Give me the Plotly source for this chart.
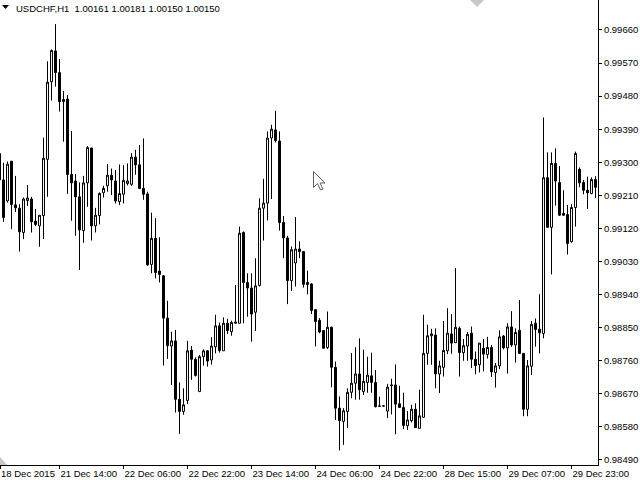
import plotly.graph_objects as go

symbol_text = "USDCHF,H1&nbsp; 1.00161 1.00181 1.00150 1.00150"

open_ = [0.99324,0.99252,0.99195,0.99303,0.99184,0.99175,0.99109,0.99196,0.99200,0.99140,
0.99127,0.99155,0.99308,0.99519,0.99603,0.99544,0.99465,0.99472,0.99267,0.99249,
0.99206,0.99114,0.99244,0.99339,0.99127,0.99155,0.99217,0.99236,0.99265,0.99249,
0.99193,0.99213,0.99242,0.99240,0.99314,0.99293,0.99229,0.99214,0.99022,0.99093,
0.99004,0.98991,0.98876,0.98800,0.98814,0.98655,0.98622,0.98652,0.98789,0.98764,
0.98676,0.98771,0.98787,0.98762,0.98798,0.98855,0.98787,0.98862,0.98839,0.98862,
0.98862,0.99109,0.98973,0.98958,0.98892,0.98965,0.99175,0.99189,0.99366,0.99388,
0.99358,0.99136,0.99094,0.98978,0.99026,0.99064,0.99057,0.98967,0.98969,0.98899,
0.98870,0.98842,0.98796,0.98851,0.98742,0.98631,0.98595,0.98622,0.98674,0.98699,
0.98724,0.98676,0.98701,0.98719,0.98701,0.98637,0.98637,0.98623,0.98692,0.98694,
0.98643,0.98633,0.98583,0.98597,0.98628,0.98576,0.98606,0.98780,0.98828,0.98830,
0.98724,0.98742,0.98787,0.98833,0.98809,0.98848,0.98782,0.98800,0.98835,0.98764,
0.98749,0.98794,0.98777,0.98796,0.98728,0.98746,0.98827,0.98795,0.98852,0.98803,
0.98843,0.98780,0.98628,0.98745,0.98862,0.98846,0.98834,0.99258,0.99123,0.99297,
0.99245,0.99161,0.99158,0.99084,0.99177,0.99281,0.99245,0.99224,0.99215,0.99253]

high = [0.99440,0.99299,0.99302,0.99303,0.99263,0.99186,0.99204,0.99238,0.99206,0.99173,
0.99156,0.99367,0.99575,0.99607,0.99676,0.99581,0.99494,0.99483,0.99385,0.99268,
0.99245,0.99263,0.99344,0.99339,0.99176,0.99218,0.99236,0.99295,0.99283,0.99279,
0.99294,0.99292,0.99297,0.99325,0.99334,0.99347,0.99365,0.99220,0.99163,0.99148,
0.99096,0.98993,0.98923,0.98839,0.98844,0.98701,0.98685,0.98814,0.98800,0.98769,
0.98776,0.98791,0.98789,0.98824,0.98885,0.98864,0.98878,0.98874,0.98869,0.98966,
0.99125,0.99112,0.98998,0.98998,0.99039,0.99202,0.99255,0.99384,0.99402,0.99440,
0.99384,0.99154,0.99100,0.99071,0.99151,0.99085,0.99057,0.99005,0.98971,0.98899,
0.98876,0.98842,0.98894,0.98853,0.98758,0.98663,0.98631,0.98685,0.98781,0.98797,
0.98821,0.98790,0.98771,0.98782,0.98735,0.98662,0.98638,0.98697,0.98711,0.98750,
0.98692,0.98673,0.98623,0.98640,0.98644,0.98681,0.98885,0.98858,0.98847,0.98848,
0.98760,0.98868,0.98903,0.98887,0.99012,0.98853,0.98819,0.98838,0.98853,0.98785,
0.98808,0.98819,0.98825,0.98803,0.98754,0.98843,0.98830,0.98862,0.98895,0.98848,
0.98925,0.98780,0.98762,0.98868,0.98875,0.98941,0.99422,0.99327,0.99327,0.99338,
0.99290,0.99224,0.99184,0.99186,0.99329,0.99286,0.99252,0.99261,0.99259,0.99262]

low = [0.99147,0.99138,0.99190,0.99118,0.99165,0.99057,0.99091,0.99181,0.99109,0.99126,
0.99070,0.99091,0.99206,0.99468,0.99506,0.99438,0.99356,0.99214,0.99141,0.99100,
0.99007,0.99081,0.99179,0.99087,0.99109,0.99131,0.99204,0.99220,0.99211,0.99188,
0.99184,0.99188,0.99237,0.99236,0.99266,0.99227,0.99198,0.99018,0.98998,0.98984,
0.98973,0.98747,0.98765,0.98694,0.98619,0.98561,0.98613,0.98642,0.98708,0.98717,
0.98676,0.98747,0.98744,0.98749,0.98780,0.98782,0.98787,0.98833,0.98828,0.98862,
0.98862,0.98862,0.98880,0.98812,0.98841,0.98962,0.99087,0.99142,0.99200,0.99354,
0.99114,0.99039,0.98914,0.98950,0.98962,0.99039,0.98959,0.98941,0.98887,0.98799,
0.98835,0.98794,0.98792,0.98688,0.98599,0.98516,0.98531,0.98577,0.98658,0.98654,
0.98654,0.98667,0.98673,0.98673,0.98633,0.98635,0.98636,0.98604,0.98614,0.98560,
0.98633,0.98574,0.98572,0.98592,0.98578,0.98576,0.98606,0.98749,0.98749,0.98685,
0.98672,0.98717,0.98778,0.98779,0.98809,0.98717,0.98760,0.98760,0.98740,0.98723,
0.98728,0.98731,0.98766,0.98716,0.98687,0.98737,0.98791,0.98725,0.98798,0.98755,
0.98780,0.98609,0.98609,0.98721,0.98798,0.98780,0.98821,0.99123,0.98995,0.99182,
0.99154,0.99154,0.99049,0.99081,0.99125,0.99232,0.99213,0.99173,0.99213,0.99203]

close = [0.99252,0.99150,0.99295,0.99185,0.99176,0.99111,0.99200,0.99203,0.99138,0.99131,
0.99156,0.99311,0.99518,0.99604,0.99544,0.99465,0.99471,0.99267,0.99244,0.99206,
0.99116,0.99244,0.99340,0.99127,0.99156,0.99215,0.99229,0.99265,0.99252,0.99195,
0.99215,0.99251,0.99249,0.99314,0.99293,0.99229,0.99213,0.99021,0.99093,0.99000,
0.98995,0.98876,0.98801,0.98814,0.98655,0.98622,0.98640,0.98787,0.98764,0.98720,
0.98771,0.98787,0.98759,0.98800,0.98855,0.98788,0.98862,0.98842,0.98864,0.98865,
0.99107,0.98973,0.98958,0.98887,0.98964,0.99175,0.99189,0.99366,0.99390,0.99359,
0.99136,0.99094,0.98978,0.99062,0.99064,0.99057,0.98968,0.98973,0.98897,0.98867,
0.98838,0.98794,0.98851,0.98742,0.98631,0.98597,0.98624,0.98674,0.98699,0.98724,
0.98681,0.98704,0.98721,0.98701,0.98635,0.98636,0.98637,0.98688,0.98694,0.98642,
0.98633,0.98584,0.98599,0.98628,0.98578,0.98610,0.98780,0.98828,0.98833,0.98724,
0.98746,0.98788,0.98835,0.98808,0.98851,0.98782,0.98801,0.98832,0.98764,0.98747,
0.98808,0.98778,0.98796,0.98730,0.98746,0.98825,0.98795,0.98852,0.98803,0.98837,
0.98780,0.98628,0.98746,0.98859,0.98845,0.98836,0.99258,0.99123,0.99297,0.99249,
0.99156,0.99156,0.99079,0.99177,0.99324,0.99244,0.99224,0.99217,0.99253,0.99232]

time_label_idx = [0, 15, 31, 47, 63, 79, 95, 111, 127, 143]
time_labels = ["18 Dec 2015", "21 Dec 14:00", "22 Dec 06:00", "22 Dec 22:00", "23 Dec 14:00",
               "24 Dec 06:00", "24 Dec 22:00", "28 Dec 15:00", "29 Dec 07:00", "29 Dec 23:00"]
price_ticks = [0.98490, 0.98580, 0.98670, 0.98760, 0.98850, 0.98940, 0.99030,
               0.99120, 0.99210, 0.99300, 0.99390, 0.99480, 0.99570, 0.99660]

W, H = 640, 480
PL, PR, PT, PB = 0, 598, 0, 465
X0 = 0.125
X1 = X0 + (PR - PL) / 4.0
Y_TOP = 0.997416
Y_BOT = 0.984763

FONT = "Liberation Sans"

def pp(x, y):
    return (x - PL) / (PR - PL), 1 - (y - PT) / (PB - PT)

idx = list(range(len(open_)))

fig = go.Figure()
fig.add_trace(go.Candlestick(
    x=idx, open=open_, high=high, low=low, close=close,
    increasing=dict(line=dict(color="black", width=1), fillcolor="white"),
    decreasing=dict(line=dict(color="black", width=1), fillcolor="black"),
    whiskerwidth=0, hoverinfo="skip", showlegend=False,
))

tickvals = [max(i, X0 + 0.01) for i in time_label_idx]

fig.update_layout(
    width=W, height=H,
    margin=dict(l=PL, r=W - PR, t=PT, b=H - PB, pad=0, autoexpand=False),
    paper_bgcolor="white", plot_bgcolor="white",
    showlegend=False, hovermode=False,
    xaxis=dict(range=[X0, X1], showgrid=False, zeroline=False, automargin=False,
               showline=True, linecolor="black", linewidth=1,
               ticks="outside", ticklen=3, tickcolor="black",
               tickvals=tickvals, ticktext=time_labels, tickangle=0,
               ticklabelposition="outside right",
               tickfont=dict(family=FONT, size=9.5, color="black"),
               rangeslider=dict(visible=False), fixedrange=True),
    yaxis=dict(range=[Y_BOT, Y_TOP], side="right", showgrid=False, zeroline=False,
               automargin=False,
               showline=True, linecolor="black", linewidth=1,
               ticks="outside", ticklen=3, tickcolor="black",
               tickvals=price_ticks, tickformat=".5f",
               tickfont=dict(family=FONT, size=9.5, color="black"), fixedrange=True),
)

# header
hx, hy = pp(14, 1)
fig.add_annotation(xref="paper", yref="paper", x=hx, y=hy, xanchor="left", yanchor="top",
                   text=symbol_text, showarrow=False,
                   font=dict(family=FONT, size=9.5, color="black"))
# small drop-down triangle
t1, t2, t3 = pp(2, 5), pp(9, 5), pp(5.5, 9)
fig.add_shape(type="path", xref="paper", yref="paper",
              path=f"M{t1[0]},{t1[1]} L{t2[0]},{t2[1]} L{t3[0]},{t3[1]} Z",
              fillcolor="black", line=dict(width=0))
# grey chart-shift markers
a, b, c = pp(470, 0), pp(484, 0), pp(477, 7)
fig.add_shape(type="path", xref="paper", yref="paper",
              path=f"M{a[0]},{a[1]} L{b[0]},{b[1]} L{c[0]},{c[1]} Z",
              fillcolor="#c8c8c8", line=dict(width=0))
a, b, c = pp(0, 457), pp(0, 465), pp(7, 465)
fig.add_shape(type="path", xref="paper", yref="paper",
              path=f"M{a[0]},{a[1]} L{b[0]},{b[1]} L{c[0]},{c[1]} Z",
              fillcolor="#c8c8c8", line=dict(width=0))
# mouse cursor
cur = [(0, 0), (0, 16), (4, 12), (7, 18.5), (9.5, 17.5), (6.5, 11.5), (11.5, 11.5)]
pts = [pp(313.5 + dx, 171.5 + dy) for dx, dy in cur]
path = "M" + " L".join(f"{px},{py}" for px, py in pts) + " Z"
fig.add_shape(type="path", xref="paper", yref="paper", path=path,
              fillcolor="white", line=dict(color="#606060", width=1))

fig.write_html("out.html", config={"displayModeBar": False},
               post_script="document.body.style.margin='0px';document.body.style.overflow='hidden';")
